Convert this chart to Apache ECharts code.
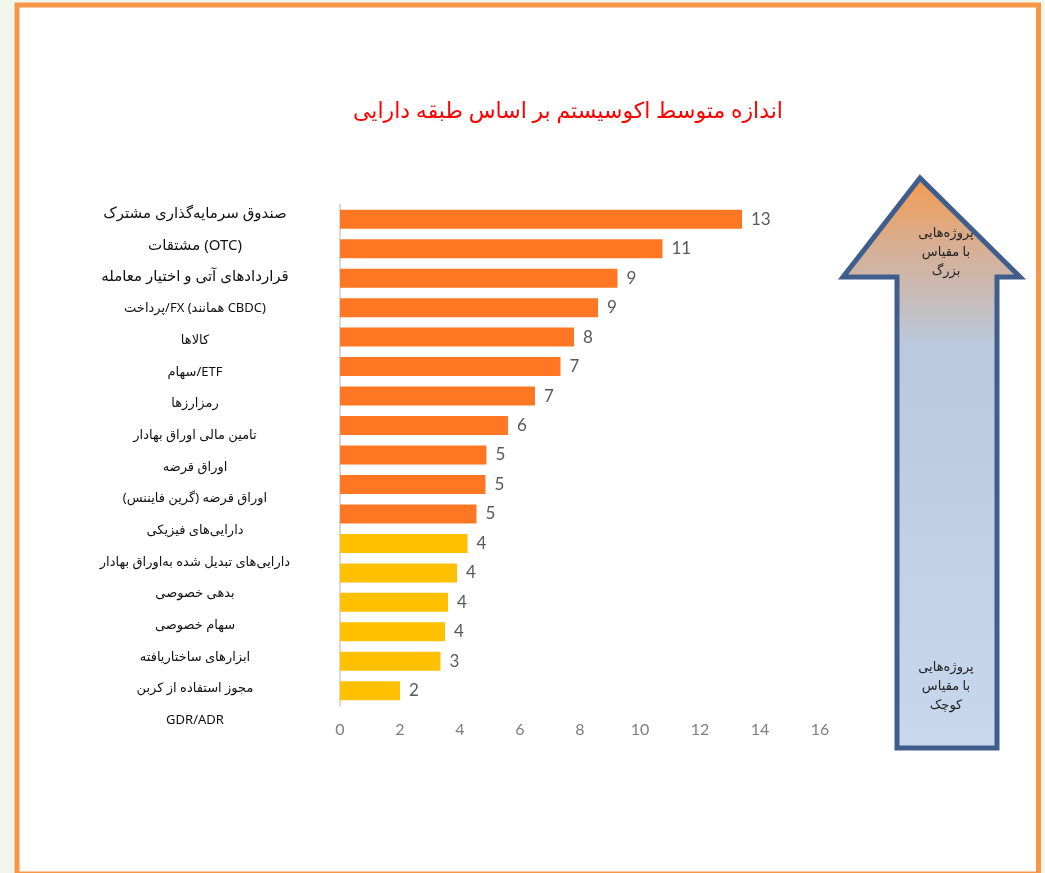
<!DOCTYPE html>
<html>
<head>
<meta charset="utf-8">
<script src="https://cdn.jsdelivr.net/npm/echarts@6/dist/echarts.min.js"></script>
<style>
html,body{margin:0;padding:0;background:#F2F7EE;}
#chart{width:1045px;height:873px;}
</style>
</head>
<body>
<div id="chart"></div>
<script>
var titleText = 'اندازه متوسط اکوسیستم بر اساس طبقه دارایی';
var categories = [
  'صندوق سرمایه‌گذاری مشترک',
  'مشتقات (OTC)',
  'قراردادهای آتی و اختیار معامله',
  'پرداخت/FX (همانند CBDC)',
  'کالاها',
  'سهام/ETF',
  'رمزارزها',
  'تامین مالی اوراق بهادار',
  'اوراق قرضه',
  'اوراق قرضه (گرین فایننس)',
  'دارایی‌های فیزیکی',
  'دارایی‌های تبدیل شده به‌اوراق بهادار',
  'بدهی خصوصی',
  'سهام خصوصی',
  'ابزارهای ساختاریافته',
  'مجوز استفاده از کربن',
  'GDR/ADR'
];
var values = [13.4, 10.75, 9.25, 8.6, 7.8, 7.35, 6.5, 5.6, 4.88, 4.85, 4.55, 4.25, 3.9, 3.6, 3.5, 3.35, 2.0];
var valueLabels = ['13', '11', '9', '9', '8', '7', '7', '6', '5', '5', '5', '4', '4', '4', '4', '3', '2'];
var barGroup = ['L','L','L','L','L','L','L','L','L','L','L','S','S','S','S','S','S'];
var xTicks = [0, 2, 4, 6, 8, 10, 12, 14, 16];
var arrowTopText = 'پروژه‌هایی\nبا مقیاس\nبزرگ';
var arrowBottomText = 'پروژه‌هایی\nبا مقیاس\nکوچک';

var colorL = '#FF7722';
var colorS = '#FFC000';
var fontFam = '"Noto Sans", "DejaVu Sans", sans-serif';

var chart = echarts.init(document.getElementById('chart'), null, {renderer: 'canvas'});

var option = {
  backgroundColor: '#F2F7EE',
  animation: false,
  textStyle: {fontFamily: fontFam},
  title: {
    text: titleText,
    left: 563, top: 96,
    textAlign: 'center',
    textStyle: {color: '#FF0000', fontSize: 22, fontWeight: 'normal', fontFamily: fontFam}
  },
  grid: [
    {left: 340, top: 204.5, width: 480, height: 501, containLabel: false},
    {left: 340, top: 198, width: 480, height: 538, containLabel: false}
  ],
  xAxis: [
    {
      gridIndex: 0, type: 'value', min: xTicks[0], max: xTicks[xTicks.length - 1], interval: 2,
      splitLine: {show: false}, axisLine: {show: false}, axisTick: {show: false},
      axisLabel: {color: '#7F7F7F', fontSize: 16, margin: 16, fontFamily: 'Lato, "Open Sans", sans-serif'}
    },
    {gridIndex: 1, type: 'value', min: 0, max: 16, show: false}
  ],
  yAxis: [
    {
      gridIndex: 0, type: 'category', inverse: true, data: categories,
      axisLine: {show: true, lineStyle: {color: '#D9D9D9', width: 2}},
      axisTick: {show: false}, axisLabel: {show: false}
    },
    {
      gridIndex: 1, type: 'category', inverse: true, data: categories,
      axisLine: {show: false}, axisTick: {show: false},
      axisLabel: {
        show: true, align: 'center', margin: 145, color: '#111',
        fontFamily: fontFam,
        formatter: function (v, i) { return i < 3 ? '{b|' + v + '}' : '{s|' + v + '}'; },
        rich: {
          b: {fontSize: 15, color: '#111', fontFamily: fontFam},
          s: {fontSize: 13, color: '#111', fontFamily: fontFam}
        }
      }
    }
  ],
  series: [
    {
      type: 'bar', xAxisIndex: 0, yAxisIndex: 0, barWidth: 19,
      data: values.map(function (v, i) {
        return {value: v, itemStyle: {color: barGroup[i] === 'L' ? colorL : colorS}};
      }),
      label: {
        show: true, position: 'right', distance: 9, color: '#595959', fontSize: 17,
        fontFamily: 'Lato, "Open Sans", sans-serif',
        formatter: function (p) { return valueLabels[p.dataIndex]; }
      }
    },
    {type: 'scatter', xAxisIndex: 1, yAxisIndex: 1, data: [], silent: true}
  ],
  graphic: [
    {
      type: 'rect', z: -10, silent: true,
      shape: {x: 17, y: 5, width: 1021.5, height: 869},
      style: {fill: '#FFFFFF', stroke: '#F79646', lineWidth: 5}
    },
    {
      type: 'polygon', z: 5, silent: true,
      shape: {points: [[920, 178], [1020, 277], [997, 277], [997, 748], [897, 748], [897, 277], [843, 277]]},
      style: {
        lineWidth: 5, stroke: '#3F5E8C', lineJoin: 'miter',
        fill: new echarts.graphic.LinearGradient(0, 0, 0, 1, [
          {offset: 0, color: '#F79A4C'},
          {offset: 0.12, color: '#D8AE92'},
          {offset: 0.3, color: '#B8C9DF'},
          {offset: 1, color: '#C8D8EC'}
        ])
      }
    },
    {
      type: 'text', z: 6, silent: true, left: 946 - 40, top: 224,
      style: {text: arrowTopText, x: 0, width: 80, textAlign: 'center', fontSize: 13, lineHeight: 19, fill: '#222', fontFamily: fontFam}
    },
    {
      type: 'text', z: 6, silent: true, left: 946 - 40, top: 658,
      style: {text: arrowBottomText, x: 0, width: 80, textAlign: 'center', fontSize: 13, lineHeight: 19, fill: '#222', fontFamily: fontFam}
    }
  ]
};
chart.setOption(option);
</script>
</body>
</html>
